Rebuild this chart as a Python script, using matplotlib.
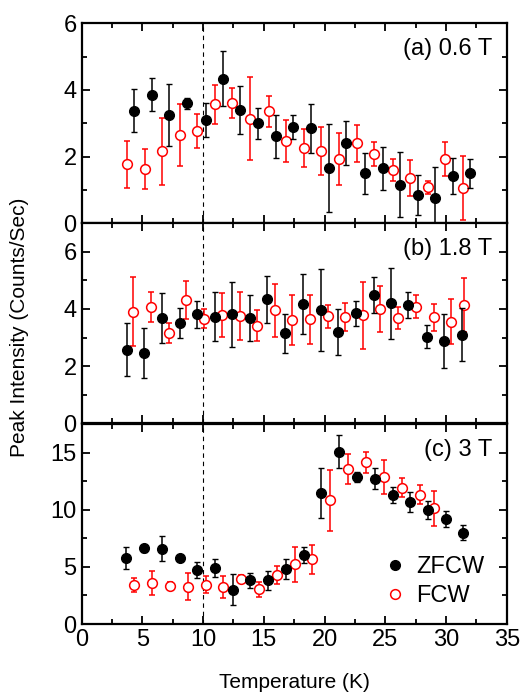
import numpy as np
import matplotlib
matplotlib.use('Agg')
import matplotlib.pyplot as plt
from matplotlib.ticker import MultipleLocator
from matplotlib.lines import Line2D

plt.rcParams['font.family'] = ['Liberation Sans', 'DejaVu Sans']

# (a) 0.6 T
Ta_z = [4.3, 5.8, 7.2, 8.7, 10.2, 11.6, 13.0, 14.5, 16.0, 17.4, 18.9, 20.4, 21.8, 23.3, 24.8, 26.2, 27.7, 29.1, 30.6, 32.0]
Ia_z = [3.38, 3.86, 3.25, 3.6, 3.1, 4.34, 3.4, 3.0, 2.61, 2.89, 2.85, 1.66, 2.42, 1.5, 1.65, 1.16, 0.85, 0.75, 1.42, 1.5]
Ea_z = [0.65, 0.5, 0.93, 0.17, 0.5, 0.83, 0.71, 0.47, 0.64, 0.35, 0.73, 1.32, 0.66, 0.62, 0.64, 0.97, 0.59, 0.95, 0.55, 0.43]
Ta_f = [3.7, 5.2, 6.6, 8.1, 9.5, 11.0, 12.4, 13.9, 15.4, 16.8, 18.3, 19.7, 21.2, 22.7, 24.1, 25.6, 27.0, 28.5, 29.9, 31.4]
Ia_f = [1.77, 1.62, 2.16, 2.65, 2.77, 3.57, 3.61, 3.14, 3.36, 2.48, 2.26, 2.17, 1.93, 2.4, 2.08, 1.61, 1.37, 1.08, 1.93, 1.07]
Ea_f = [0.7, 0.6, 1.0, 0.94, 0.5, 0.58, 0.44, 1.25, 0.46, 0.63, 0.56, 0.73, 0.78, 0.55, 0.35, 0.33, 0.54, 0.2, 0.52, 0.96]

# (b) 1.8 T
Tb_z = [3.7, 5.15, 6.6, 8.06, 9.5, 10.96, 12.4, 13.84, 15.3, 16.78, 18.23, 19.7, 21.13, 22.58, 24.06, 25.5, 26.9, 28.4, 29.85, 31.3]
Ib_z = [2.57, 2.46, 3.68, 3.52, 3.81, 3.73, 3.81, 3.69, 4.34, 3.15, 4.17, 3.97, 3.2, 3.85, 4.49, 4.2, 4.13, 3.03, 2.88, 3.1]
Eb_z = [0.93, 0.88, 0.87, 0.53, 0.46, 0.86, 1.13, 0.8, 0.82, 0.68, 1.06, 1.43, 0.8, 0.44, 0.63, 1.25, 0.46, 0.4, 0.95, 0.92]
Tb_f = [4.27, 5.73, 7.18, 8.63, 10.08, 11.54, 13.0, 14.44, 15.9, 17.35, 18.83, 20.26, 21.7, 23.16, 24.6, 26.07, 27.52, 28.97, 30.4, 31.46]
Ib_f = [3.91, 4.07, 3.15, 4.32, 3.66, 3.79, 3.76, 3.42, 3.95, 3.62, 3.64, 3.74, 3.72, 3.78, 4.01, 3.68, 4.08, 3.71, 3.56, 4.14]
Eb_f = [1.2, 0.54, 0.35, 0.67, 0.33, 0.78, 0.85, 0.55, 0.92, 0.88, 0.85, 0.4, 0.5, 1.18, 0.8, 0.38, 0.4, 0.47, 0.8, 0.93]

# (c) 3 T
Tc_z = [3.67, 5.12, 6.6, 8.06, 9.54, 10.99, 12.44, 13.9, 15.35, 16.83, 18.28, 19.74, 21.2, 22.67, 24.14, 25.6, 27.05, 28.5, 29.96, 31.41]
Ic_z = [5.77, 6.62, 6.59, 5.77, 4.72, 4.9, 3.0, 3.82, 3.82, 4.81, 6.07, 11.49, 15.08, 12.89, 12.71, 11.31, 10.67, 10.0, 9.19, 7.99]
Ec_z = [0.95, 0.3, 1.1, 0.3, 0.67, 0.82, 1.35, 0.65, 0.86, 0.86, 0.7, 2.2, 1.47, 0.43, 0.93, 0.7, 0.85, 0.8, 0.73, 0.68]
Tc_f = [4.3, 5.78, 7.26, 8.72, 10.2, 11.64, 13.12, 14.58, 16.06, 17.54, 19.0, 20.45, 21.93, 23.4, 24.9, 26.37, 27.85, 29.03]
Ic_f = [3.41, 3.59, 3.3, 3.27, 3.44, 3.21, 3.94, 3.03, 4.29, 5.22, 5.66, 10.82, 13.56, 14.14, 12.86, 11.93, 11.29, 10.12]
Ec_f = [0.63, 1.08, 0.35, 1.15, 0.75, 0.95, 0.35, 0.63, 0.76, 1.5, 1.27, 2.67, 1.31, 0.93, 1.45, 0.83, 0.83, 1.53]

panels = [
    (Ta_z, Ia_z, Ea_z, Ta_f, Ia_f, Ea_f, '(a) 0.6 T', 6, 2, 1, [0, 2, 4, 6]),
    (Tb_z, Ib_z, Eb_z, Tb_f, Ib_f, Eb_f, '(b) 1.8 T', 7, 2, 1, [0, 2, 4, 6]),
    (Tc_z, Ic_z, Ec_z, Tc_f, Ic_f, Ec_f, '(c) 3 T', 17.5, 5, 2.5, [0, 5, 10, 15]),
]

fig = plt.figure(figsize=(5.23, 6.97), dpi=100)
left, width = 0.156, 0.813
bottoms = [0.6796, 0.3927, 0.1047]
h = 0.287

for i, (tz, iz, ez, tf, i_f, ef, lab, ymax, ymaj, ymin, yt) in enumerate(panels):
    ax = fig.add_axes([left, bottoms[i], width, h])
    ax.axvline(10, color='k', linestyle=(0, (4, 3.5)), lw=0.8, zorder=1)
    ax.errorbar(tf, i_f, yerr=ef, fmt='o', mfc='white', mec='red', ecolor='red',
                ms=7, mew=1.1, elinewidth=1.1, capsize=2.2, capthick=1.1, zorder=3)
    ax.errorbar(tz, iz, yerr=ez, fmt='o', mfc='black', mec='black', ecolor='black',
                ms=7, mew=1.0, elinewidth=1.1, capsize=2.2, capthick=1.1, zorder=4)
    ax.set_xlim(0, 35)
    ax.set_ylim(0, ymax)
    ax.xaxis.set_major_locator(MultipleLocator(5))
    ax.xaxis.set_minor_locator(MultipleLocator(2.5))
    ax.yaxis.set_major_locator(MultipleLocator(ymaj))
    ax.yaxis.set_minor_locator(MultipleLocator(ymin))
    ax.set_yticks(yt)
    ax.tick_params(which='both', direction='in', top=True, right=True, width=1.3)
    ax.tick_params(which='major', length=6, labelsize=17)
    ax.tick_params(which='minor', length=3.5)
    for s in ax.spines.values():
        s.set_linewidth(1.6)
    ax.text(0.965, 0.87, lab, transform=ax.transAxes, ha='right', va='center', fontsize=17)
    if i < 2:
        ax.tick_params(labelbottom=False)
    else:
        ax.set_xlabel('Temperature (K)', fontsize=15, labelpad=16)
        handles = [Line2D([], [], ls='none', marker='o', ms=7, mfc='black', mec='black'),
                   Line2D([], [], ls='none', marker='o', ms=7, mfc='white', mec='red', mew=1.1)]
        ax.legend(handles, ['ZFCW', 'FCW'], loc='lower right', bbox_to_anchor=(0.985, 0.0),
                  frameon=False, fontsize=17, handletextpad=0.1, handlelength=1.6,
                  borderaxespad=0.3, labelspacing=0.3)

fig.text(0.037, 0.53, 'Peak Intensity (Counts/Sec)', rotation=90, ha='center', va='center', fontsize=15)

fig.savefig('out.png', dpi=100)
